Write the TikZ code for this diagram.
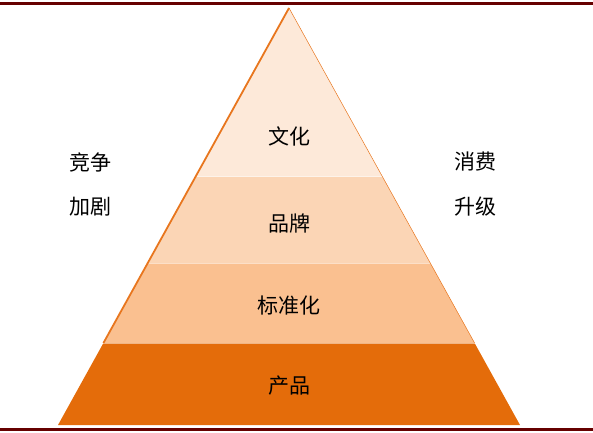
\documentclass[tikz,border=0pt]{standalone}
\usepackage{fontspec}
\newfontfamily\cjk{Noto Sans CJK SC}
\usetikzlibrary{calc}
\usetikzlibrary{positioning}

\definecolor{barred}{RGB}{102,0,0}
\definecolor{layerwh}{RGB}{253,233,217}
\definecolor{layerlt}{RGB}{251,213,181}
\definecolor{layermd}{RGB}{250,192,144}
\definecolor{layerdk}{RGB}{228,108,10}
\definecolor{edgeor}{RGB}{232,118,30}

\begin{document}
\begin{tikzpicture}[x=1pt, y=-1pt,
        word/.style={font=\cjk\fontsize{21}{25}\selectfont, text=black, inner sep=0pt}]
                \useasboundingbox(0, 0)rectangle(593, 432);
                \draw[barred, line width=3pt](0, 3.5)--(593, 3.5);
                \draw[barred, line width=3pt](0, 429)--(593, 429);

                \coordinate (apex) at (289, 8);
                \coordinate (bl) at (58, 425);
                \coordinate (br) at (520, 425);
                \coordinate (l1) at ($(apex)!0.4046!(bl)$);
                \coordinate (r1) at ($(apex)!0.4046!(br)$);
                \coordinate (l2) at ($(apex)!0.6115!(bl)$);
                \coordinate (r2) at ($(apex)!0.6115!(br)$);
                \coordinate (l3) at ($(apex)!0.8034!(bl)$);
                \coordinate (r3) at ($(apex)!0.8034!(br)$);

                \fill[layerwh](apex)--(r1)--(l1)--cycle;
                \fill[layerlt](l1)--(r1)--(r2)--(l2)--cycle;
                \fill[layermd](l2)--(r2)--(r3)--(l3)--cycle;
                \fill[layerdk](l3)--(r3)--(br)--(bl)--cycle;
                \draw[white, opacity=0.5, line width=1pt](l1)--(r1);
                \draw[white, opacity=0.5, line width=1pt](l2)--(r2);
                \draw[white, opacity=0.5, line width=1pt](l3)--(r3);
                \draw[edgeor, line width=1.8pt](apex)--(l3);
                \draw[edgeor, line width=0.5pt](apex)--(r3);

                \node[word] (culture) at (289, 136){文化};
                \node[word] (brand) at (289, 224){品牌};
                \node[word] (standard) at (289, 306){标准化};
                \node[word] (product) at (289, 386){产品};

                \node[word] (compete) at (90, 162){竞争};
                \node[word] (fierce) at (90, 207){加剧};
                \node[word] (consume) at (475, 162){消费};
                \node[word] (upgrade) at (475, 207){升级};
            \end{tikzpicture}
\end{document}
